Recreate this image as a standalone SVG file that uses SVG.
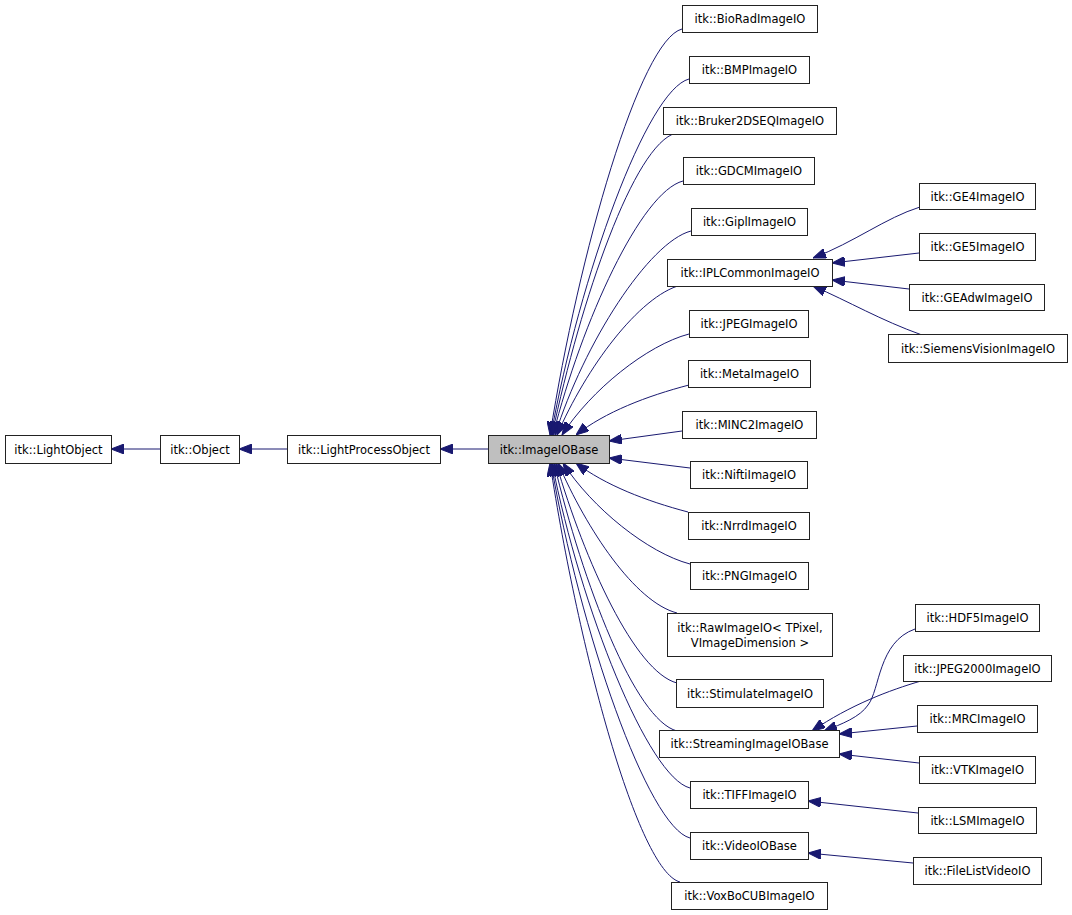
<svg xmlns="http://www.w3.org/2000/svg" width="1072" height="915" viewBox="0 0 1072 915">
<style>
.n rect{fill:#ffffff;stroke:#222222;stroke-width:1}
.n.h rect{fill:#bfbfbf}
.n text{font-family:"DejaVu Sans","Liberation Sans",sans-serif;font-size:11.5px;fill:#000000;text-anchor:middle}
.e path{fill:none;stroke:#191970;stroke-width:1;marker-end:url(#ah)}
</style>
<defs>
<marker id="ah" markerWidth="13" markerHeight="10" refX="13" refY="5" orient="auto" markerUnits="userSpaceOnUse">
<path d="M0,0 L13,5 L0,10 z" fill="#191970" stroke="#191970" stroke-width="1"/>
</marker>
</defs>
<rect x="0" y="0" width="1072" height="915" fill="#ffffff"/>
<g id="edges" class="e">
<path d="M160,449 L111,449"/>
<path d="M287,449 L239,449"/>
<path d="M488,449 L440,449"/>
<path d="M682,29 C640,40 579,252 550,435"/>
<path d="M689,79 C647,90 580,275 551,435"/>
<path d="M676,133 C634,144 581,299 552,435"/>
<path d="M683,181 C641,192 582,321 553,435"/>
<path d="M691,231 C649,242 584,343 555,435"/>
<path d="M681,285 C639,296 586,368 557,435"/>
<path d="M689,334 C647,345 591,390 562,435"/>
<path d="M689,385 C647,396 605,412 576,435"/>
<path d="M682,431 L609,441"/>
<path d="M690,468 L609,458"/>
<path d="M688,512 C646,501 605,485 576,463"/>
<path d="M690,564 C648,553 592,508 563,463"/>
<path d="M677,613 C635,602 587,530 558,463"/>
<path d="M677,683 C635,672 585,562 556,463"/>
<path d="M677,731 C635,720 583,584 554,463"/>
<path d="M690,788 C648,777 581,609 552,463"/>
<path d="M690,838 C648,827 580,632 551,463"/>
<path d="M680,882 C638,871 579,652 550,463"/>
<path d="M920,207 C885,218 855,242 813,258"/>
<path d="M919,253 L832,263"/>
<path d="M909,289 L832,280"/>
<path d="M922,335 C880,320 850,302 813,286"/>
<path d="M915,629 C878,642 880,690 868,705 C860,717 842,724 824,731"/>
<path d="M921,681 C890,690 850,705 812,731"/>
<path d="M917,726 L839,734"/>
<path d="M919,763 L839,754"/>
<path d="M918,813 L808,801"/>
<path d="M913,863 L808,853"/>
</g>
<g id="LightObject" class="n"><rect x="5.5" y="435.5" width="106" height="28"/><text x="58.5" y="453.5">itk::LightObject</text></g>
<g id="Object" class="n"><rect x="160.5" y="435.5" width="79" height="28"/><text x="200" y="453.5">itk::Object</text></g>
<g id="LightProcessObject" class="n"><rect x="287.5" y="435.5" width="153" height="28"/><text x="364" y="453.5">itk::LightProcessObject</text></g>
<g id="ImageIOBase" class="n h"><rect x="488.5" y="435.5" width="121" height="28"/><text x="549" y="453.5">itk::ImageIOBase</text></g>
<g id="BioRadImageIO" class="n"><rect x="682.5" y="5.5" width="135" height="27"/><text x="750" y="23">itk::BioRadImageIO</text></g>
<g id="BMPImageIO" class="n"><rect x="689.5" y="56.5" width="120" height="27"/><text x="749.5" y="74">itk::BMPImageIO</text></g>
<g id="Bruker2DSEQImageIO" class="n"><rect x="663.5" y="107.5" width="173" height="27"/><text x="750" y="125">itk::Bruker2DSEQImageIO</text></g>
<g id="GDCMImageIO" class="n"><rect x="683.5" y="157.5" width="131" height="27"/><text x="749" y="175">itk::GDCMImageIO</text></g>
<g id="GiplImageIO" class="n"><rect x="691.5" y="208.5" width="116" height="27"/><text x="749.5" y="226">itk::GiplImageIO</text></g>
<g id="IPLCommonImageIO" class="n"><rect x="667.5" y="259.5" width="165" height="27"/><text x="750" y="277">itk::IPLCommonImageIO</text></g>
<g id="JPEGImageIO" class="n"><rect x="689.5" y="310.5" width="119" height="27"/><text x="749" y="328">itk::JPEGImageIO</text></g>
<g id="MetaImageIO" class="n"><rect x="688.5" y="360.5" width="122" height="27"/><text x="749.5" y="378">itk::MetaImageIO</text></g>
<g id="MINC2ImageIO" class="n"><rect x="682.5" y="411.5" width="134" height="27"/><text x="749.5" y="429">itk::MINC2ImageIO</text></g>
<g id="NiftiImageIO" class="n"><rect x="690.5" y="461.5" width="117" height="27"/><text x="749" y="479">itk::NiftiImageIO</text></g>
<g id="NrrdImageIO" class="n"><rect x="688.5" y="512.5" width="121" height="27"/><text x="749" y="530">itk::NrrdImageIO</text></g>
<g id="PNGImageIO" class="n"><rect x="690.5" y="562.5" width="118" height="27"/><text x="749.5" y="580">itk::PNGImageIO</text></g>
<g id="RawImageIO" class="n"><rect x="667.5" y="613.5" width="165" height="43"/><text x="750" y="631.5">itk::RawImageIO&lt; TPixel,</text><text x="750" y="646.5">VImageDimension &gt;</text></g>
<g id="StimulateImageIO" class="n"><rect x="676.5" y="679.5" width="147" height="28"/><text x="750" y="697.5">itk::StimulateImageIO</text></g>
<g id="StreamingImageIOBase" class="n"><rect x="659.5" y="730.5" width="180" height="27"/><text x="749.5" y="748">itk::StreamingImageIOBase</text></g>
<g id="TIFFImageIO" class="n"><rect x="690.5" y="781.5" width="118" height="27"/><text x="749.5" y="799">itk::TIFFImageIO</text></g>
<g id="VideoIOBase" class="n"><rect x="690.5" y="832.5" width="118" height="27"/><text x="749.5" y="850">itk::VideoIOBase</text></g>
<g id="VoxBoCUBImageIO" class="n"><rect x="671.5" y="882.5" width="156" height="27"/><text x="749.5" y="900">itk::VoxBoCUBImageIO</text></g>
<g id="GE4ImageIO" class="n"><rect x="919.5" y="183.5" width="116" height="26"/><text x="977.5" y="200.5">itk::GE4ImageIO</text></g>
<g id="GE5ImageIO" class="n"><rect x="919.5" y="233.5" width="116" height="27"/><text x="977.5" y="251">itk::GE5ImageIO</text></g>
<g id="GEAdwImageIO" class="n"><rect x="909.5" y="284.5" width="135" height="26"/><text x="977" y="301.5">itk::GEAdwImageIO</text></g>
<g id="SiemensVisionImageIO" class="n"><rect x="888.5" y="334.5" width="179" height="28"/><text x="978" y="352.5">itk::SiemensVisionImageIO</text></g>
<g id="HDF5ImageIO" class="n"><rect x="915.5" y="604.5" width="124" height="27"/><text x="977.5" y="622">itk::HDF5ImageIO</text></g>
<g id="JPEG2000ImageIO" class="n"><rect x="903.5" y="655.5" width="148" height="26"/><text x="977.5" y="672.5">itk::JPEG2000ImageIO</text></g>
<g id="MRCImageIO" class="n"><rect x="917.5" y="705.5" width="120" height="27"/><text x="977.5" y="723">itk::MRCImageIO</text></g>
<g id="VTKImageIO" class="n"><rect x="919.5" y="756.5" width="116" height="27"/><text x="977.5" y="774">itk::VTKImageIO</text></g>
<g id="LSMImageIO" class="n"><rect x="918.5" y="807.5" width="118" height="26"/><text x="977.5" y="824.5">itk::LSMImageIO</text></g>
<g id="FileListVideoIO" class="n"><rect x="913.5" y="857.5" width="128" height="27"/><text x="977.5" y="875">itk::FileListVideoIO</text></g>
</svg>
